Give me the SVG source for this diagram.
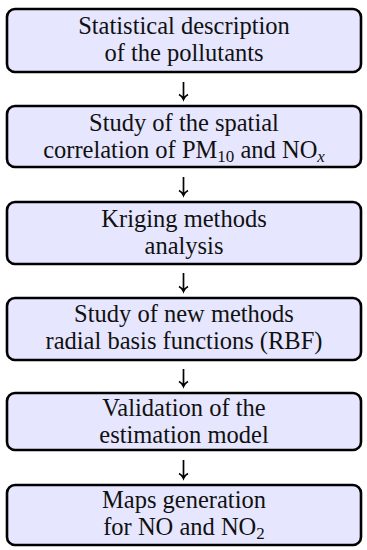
<svg xmlns="http://www.w3.org/2000/svg" width="367" height="550" viewBox="0 0 367 550">
<style>
.box{fill:#E6E6FF;stroke:#000;stroke-width:2.6}
.t{font-family:"Liberation Serif","Times New Roman",serif;font-size:24.5px;fill:#111;text-anchor:middle}
.c{stroke:#000;stroke-width:1.7;fill:none}
</style>
<rect width="367" height="550" fill="#fff"/>
<g id="n1"><rect class="box" x="7" y="9" width="354" height="63" rx="8"/>
<text class="t" x="184" y="34">Statistical description</text>
<text class="t" x="184" y="61">of the pollutants</text></g>
<g id="n2"><rect class="box" x="7" y="106" width="354" height="61" rx="8"/>
<text class="t" x="184" y="131">Study of the spatial</text>
<text class="t" x="184" y="158">correlation of PM<tspan font-size="17" dy="4">10</tspan><tspan dy="-4"> and NO</tspan><tspan font-size="17" font-style="italic" dy="4">x</tspan></text></g>
<g id="n3"><rect class="box" x="7" y="202" width="354" height="62" rx="8"/>
<text class="t" x="184" y="227">Kriging methods</text>
<text class="t" x="184" y="254">analysis</text></g>
<g id="n4"><rect class="box" x="7" y="298" width="354" height="62" rx="8"/>
<text class="t" x="184" y="322">Study of new methods</text>
<text class="t" x="184" y="349">radial basis functions (RBF)</text></g>
<g id="n5"><rect class="box" x="7" y="393" width="354" height="57" rx="8"/>
<text class="t" x="184" y="416">Validation of the</text>
<text class="t" x="184" y="443">estimation model</text></g>
<g id="n6"><rect class="box" x="7" y="485" width="354" height="60" rx="8"/>
<text class="t" x="184" y="508">Maps generation</text>
<text class="t" x="184" y="535">for NO and NO<tspan font-size="17" dy="4">2</tspan></text></g>
<g id="connectors">
<path class="c" d="M183.5 82V99M179 94.5Q182 96 183.5 99.5Q185 96 188 94.5"/>
<path class="c" d="M183.5 177V195M179 190.5Q182 192 183.5 195.5Q185 192 188 190.5"/>
<path class="c" d="M183.5 273V291M179 286.5Q182 288 183.5 291.5Q185 288 188 286.5"/>
<path class="c" d="M183.5 369V386M179 381.5Q182 383 183.5 386.5Q185 383 188 381.5"/>
<path class="c" d="M183.5 460V478M179 473.5Q182 475 183.5 478.5Q185 475 188 473.5"/>
</g>
</svg>
